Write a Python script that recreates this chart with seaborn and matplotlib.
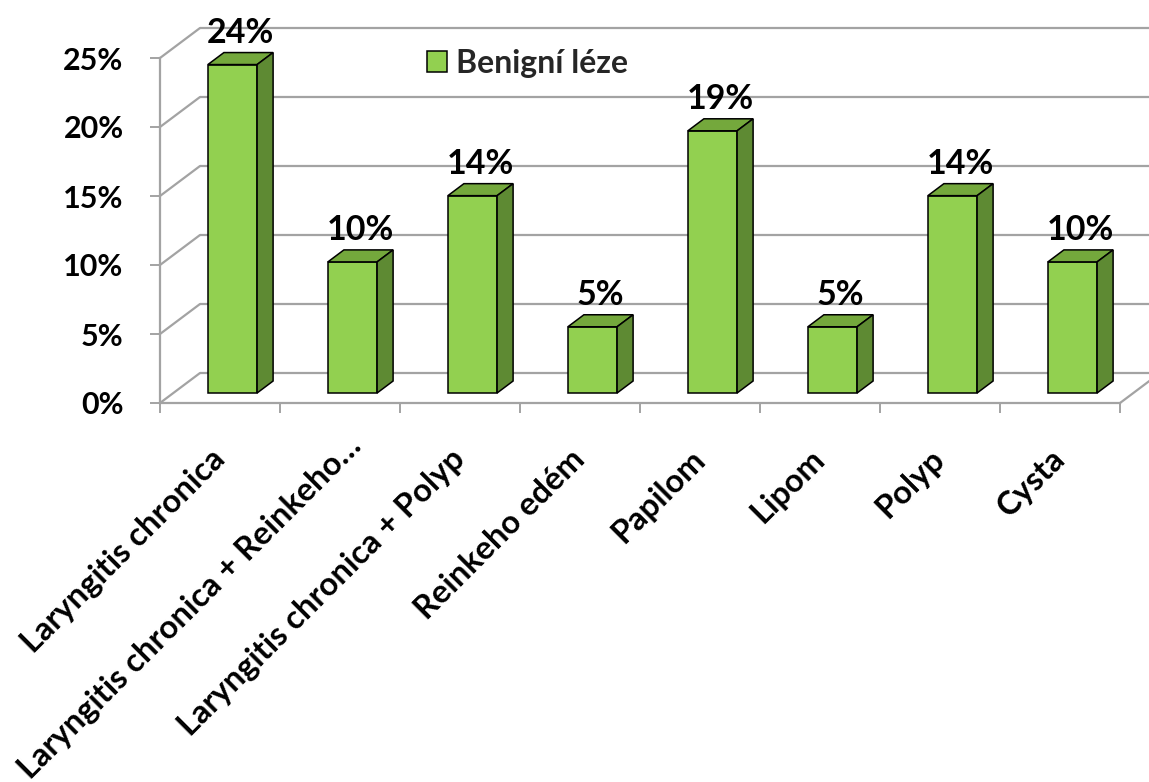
import matplotlib
matplotlib.use("Agg")
import matplotlib.pyplot as plt
import matplotlib.transforms as mtransforms
import seaborn as sns
import pandas as pd
from matplotlib.patches import Polygon, Patch

# ---------------- data ----------------
categories = ["Laryngitis chronica", "Laryngitis chronica + Reinkeho…",
              "Laryngitis chronica + Polyp", "Reinkeho edém", "Papilom",
              "Lipom", "Polyp", "Cysta"]
values = [23.8, 9.5, 14.3, 4.8, 19.0, 4.8, 14.3, 9.5]
value_labels = ["24%", "10%", "14%", "5%", "19%", "5%", "14%", "10%"]
y_ticks = [0, 5, 10, 15, 20, 25]
y_tick_labels = ["0%", "5%", "10%", "15%", "20%", "25%"]
series_name = "Benigní léze"

# ---------------- style ----------------
FRONT = "#92D050"
TOP = "#74A83C"
SIDE = "#5E8A33"
GRID = "#A3A3A3"

sns.set_theme(style="white")
plt.rcParams["font.family"] = ["Lato", "DejaVu Sans"]
plt.rcParams["font.weight"] = "bold"

W, H = 1149, 782
fig = plt.figure(figsize=(W / 100, H / 100), dpi=100)
ax_left, ax_right, ax_bottom, ax_top = 160, 1120, 403, 58
ax = fig.add_axes([ax_left / W, (H - ax_bottom) / H,
                   (ax_right - ax_left) / W, (ax_bottom - ax_top) / H])
ax.set_xlim(-0.5, 7.5)
ax.set_ylim(0, 25)

def pdx(p):
    return p * 8.0 / (ax_right - ax_left)

def pdy(p):
    return p * 25.0 / (ax_bottom - ax_top)

df = pd.DataFrame({"cat": categories, "val": values})
sns.barplot(data=df, x="cat", y="val", color=FRONT, saturation=1, width=0.41,
            edgecolor="black", linewidth=1.1, ax=ax, zorder=4)
ax.set_xlim(-0.5, 7.5)
ax.set_ylim(0, 25)

# ---------------- 3D walls ----------------
WX, WY = pdx(40), pdy(30)
for y in y_ticks:
    ax.plot([-0.5 + WX, 7.5 + WX], [y + WY, y + WY], color=GRID, lw=1.6,
            clip_on=False, zorder=1, solid_capstyle="butt")
    ax.plot([-0.5, -0.5 + WX], [y, y + WY], color=GRID, lw=1.6,
            clip_on=False, zorder=1)
ax.plot([7.5, 7.5 + WX], [0, WY], color=GRID, lw=1.6, clip_on=False, zorder=1)

# ---------------- 3D bars ----------------
BX, BY = pdx(12.5), pdy(10)
DX, DY = pdx(16), pdy(12)
for patch, lbl in zip(ax.patches, value_labels):
    x0 = patch.get_x() + BX
    w = patch.get_width()
    h = patch.get_height()
    patch.set_x(x0)
    patch.set_y(BY)
    patch.set_clip_on(False)
    x1 = x0 + w
    y0 = BY
    top = BY + h
    ax.add_patch(Polygon([(x0, top), (x1, top), (x1 + DX, top + DY), (x0 + DX, top + DY)],
                         closed=True, facecolor=TOP, edgecolor="black", lw=1.1,
                         zorder=4, clip_on=False))
    ax.add_patch(Polygon([(x1, y0), (x1 + DX, y0 + DY), (x1 + DX, top + DY), (x1, top)],
                         closed=True, facecolor=SIDE, edgecolor="black", lw=1.1,
                         zorder=4, clip_on=False))
    ax.text(x0 + w / 2 + DX / 2, top + DY + pdy(10), lbl, ha="center", va="baseline",
            fontsize=24.5, fontweight="bold", color="black", clip_on=False, zorder=5)

# ---------------- axes ----------------
for s in ["top", "right"]:
    ax.spines[s].set_visible(False)
for s in ["left", "bottom"]:
    ax.spines[s].set_color(GRID)
    ax.spines[s].set_linewidth(1.6)
    ax.spines[s].set_zorder(2)

ax.set_yticks(y_ticks, y_tick_labels)
ax.tick_params(axis="y", length=7.2, width=1.4, color=GRID, pad=19,
               labelsize=22, labelcolor="black", left=True)
for t in ax.get_yticklabels():
    t.set_fontweight("bold")

ax.set_xticks([i - 0.5 for i in range(9)], [""] * 9)
ax.set_xticks(range(len(categories)), categories, minor=True)
ax.tick_params(axis="x", which="major", length=7.2, width=1.4, color=GRID,
               bottom=True)
ax.tick_params(axis="x", which="minor", length=0, pad=37, labelsize=23.5,
               labelcolor="black", labelrotation=45)
for i, t in enumerate(ax.get_xticklabels(minor=True)):
    t.set_ha("right")
    t.set_va("center")
    t.set_rotation_mode("anchor")
    t.set_fontweight("bold")
    if i == 1:  # truncated label sits a little further along in the reference
        t.set_transform(t.get_transform() +
                        mtransforms.ScaledTranslation(0.16, 0.13, fig.dpi_scale_trans))
ax.set_xlabel("")
ax.set_ylabel("")
ax.grid(False)

# ---------------- legend ----------------
fig.legend(handles=[Patch(facecolor=FRONT, edgecolor="black", lw=1.1, label=series_name)],
           loc="upper left", bbox_to_anchor=(427 / W, 1 - 49 / H), frameon=False,
           prop={"size": 23, "weight": "bold", "family": ["Lato", "DejaVu Sans"]},
           handlelength=0.62, handleheight=0.62, handletextpad=0.3,
           borderpad=0, borderaxespad=0)

fig.savefig("out.png", dpi=100)
